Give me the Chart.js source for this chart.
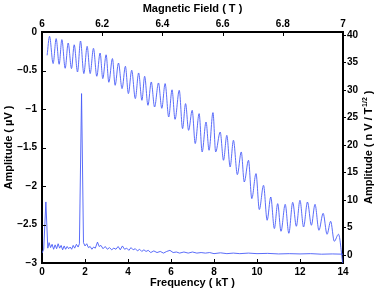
<!DOCTYPE html>
<html>
<head>
<meta charset="utf-8">
<script src="https://cdn.jsdelivr.net/npm/chart.js@4.4.1/dist/chart.umd.min.js"></script>
<style>
  html, body { margin: 0; padding: 0; background: #fff; }
  #chart { display: block; }
</style>
</head>
<body>
<canvas id="chart" width="382" height="291"></canvas>
<script>
// oscillation signal vs field (top / left axes)
var fieldT = [
  6.017, 6.025, 6.037, 6.047, 6.057, 6.066, 6.077, 6.087, 6.098, 6.107,
  6.118, 6.128, 6.139, 6.150, 6.160, 6.171, 6.182, 6.193, 6.202, 6.213,
  6.222, 6.234, 6.243, 6.254, 6.266, 6.277, 6.287, 6.298, 6.310, 6.321,
  6.332, 6.341, 6.352, 6.363, 6.374, 6.387, 6.398, 6.409, 6.421, 6.432,
  6.442, 6.456, 6.467, 6.477, 6.487, 6.499, 6.509, 6.522, 6.532, 6.545,
  6.555, 6.568, 6.577, 6.592, 6.603, 6.614, 6.625, 6.636, 6.649, 6.662,
  6.672, 6.686, 6.697, 6.711, 6.722, 6.736, 6.748, 6.760, 6.772, 6.783,
  6.794, 6.808, 6.820, 6.833, 6.845, 6.857, 6.869, 6.882, 6.895, 6.907,
  6.920, 6.934, 6.947, 6.959, 6.971, 6.985, 6.999
];
var signalUV = [
  -0.303, -0.056, -0.410, -0.086, -0.419, -0.099, -0.471, -0.143, -0.475, -0.166,
  -0.519, -0.117, -0.540, -0.186, -0.540, -0.212, -0.575, -0.273, -0.605, -0.296,
  -0.653, -0.345, -0.692, -0.403, -0.735, -0.445, -0.800, -0.497, -0.865, -0.532,
  -0.887, -0.575, -0.952, -0.649, -0.974, -0.662, -0.991, -0.670, -1.104, -0.751,
  -1.134, -0.757, -1.255, -0.930, -1.277, -1.017, -1.449, -1.060, -1.558, -1.169,
  -1.536, -1.047, -1.558, -1.299, -1.666, -1.342, -1.753, -1.406, -1.852, -1.558,
  -1.948, -1.666, -2.164, -1.839, -2.306, -1.991, -2.445, -2.143, -2.553, -2.229,
  -2.588, -2.238, -2.614, -2.212, -2.523, -2.186, -2.532, -2.208, -2.510, -2.238,
  -2.575, -2.355, -2.627, -2.458, -2.718, -2.627, -3.0
];

// FFT amplitude vs frequency (bottom / right axes)
var freqKT = [
  0.00, 0.08, 0.18, 0.27, 0.33, 0.40, 0.47, 0.54, 0.61, 0.68,
  0.75, 0.82, 0.89, 0.96, 1.03, 1.10, 1.17, 1.24, 1.31, 1.38,
  1.45, 1.52, 1.60, 1.68, 1.74, 1.84, 1.93, 2.00, 2.08, 2.16,
  2.24, 2.32, 2.40, 2.48, 2.58, 2.66, 2.74, 2.84, 2.94, 3.04,
  3.14, 3.24, 3.34, 3.44, 3.54, 3.64, 3.74, 3.84, 3.94, 4.04,
  4.14, 4.24, 4.34, 4.44, 4.54, 4.64, 4.74, 4.84, 4.94, 5.06,
  5.20, 5.35, 5.50, 5.65, 5.80, 5.95, 6.10, 6.25, 6.40, 6.60,
  6.80, 7.00, 7.20, 7.40, 7.60, 7.80, 8.00, 8.30, 8.60, 8.90,
  9.20, 9.60, 10.0, 10.5, 11.0, 11.5, 12.0, 12.5, 13.0, 13.5,
  14.0
];
var fftAmp = [
  0.3, 1.0, 9.6, 1.2, 2.2, 1.3, 1.9, 1.0, 1.8, 1.1,
  2.0, 1.2, 1.7, 0.9, 1.6, 1.0, 1.5, 1.1, 1.4, 1.0,
  1.7, 1.2, 1.9, 1.4, 2.0, 29.3, 2.2, 1.6, 2.0, 1.3,
  1.5, 1.0, 1.4, 1.2, 2.3, 1.5, 1.7, 1.1, 1.5, 1.0,
  1.3, 0.9, 1.2, 1.0, 1.5, 0.9, 1.6, 1.0, 1.2, 0.8,
  1.3, 0.9, 1.1, 0.7, 1.0, 0.6, 0.9, 0.6, 0.8, 0.4,
  0.7, 0.4, 0.6, 0.3, 0.6, 0.8, 0.4, 0.5, 0.3, 0.5,
  0.3, 0.5, 0.3, 0.4, 0.3, 0.4, 0.2, 0.35, 0.2, 0.3,
  0.2, 0.3, 0.2, 0.25, 0.15, 0.2, 0.15, 0.2, 0.1, 0.15,
  0.1
];

var fieldTicks = [6, 6.2, 6.4, 6.6, 6.8, 7];
var freqTicks = [0, 2, 4, 6, 8, 10, 12, 14];
var leftTicks = [0, -0.5, -1, -1.5, -2, -2.5, -3];
var rightTicks = [0, 5, 10, 15, 20, 25, 30, 35, 40];

var LINE = 'rgb(72, 92, 248)';
var FONT = '"Liberation Sans", Arial, Helvetica, sans-serif';
var tickFont = { family: FONT, size: 10, weight: 'bold' };
var titleFont = { family: FONT, size: 11, weight: 'bold' };

function pairs(xs, ys) {
  return xs.map(function (x, i) { return { x: x, y: ys[i] }; });
}
function fixTicks(list) {
  return function (scale) {
    scale.ticks = list.map(function (v) { return { value: v }; });
  };
}
function plain(v) {
  return String(v).replace('-', '\u2212');
}

// MATLAB style: small tick marks pointing into the box
var inwardTicks = {
  id: 'inwardTicks',
  afterDatasetsDraw: function (chart) {
    var ctx = chart.ctx, a = chart.chartArea, len = 4;
    ctx.save();
    ctx.strokeStyle = '#000';
    ctx.lineWidth = 1;
    ['xBot', 'xTop', 'yLeft', 'yRight'].forEach(function (id) {
      var s = chart.scales[id];
      s.ticks.forEach(function (t) {
        var p = Math.round(s.getPixelForValue(t.value)) + 0.5;
        ctx.beginPath();
        if (id === 'xBot') { ctx.moveTo(p, a.bottom); ctx.lineTo(p, a.bottom - len); }
        if (id === 'xTop') { ctx.moveTo(p, a.top); ctx.lineTo(p, a.top + len); }
        if (id === 'yLeft') { ctx.moveTo(a.left, p); ctx.lineTo(a.left + len, p); }
        if (id === 'yRight') { ctx.moveTo(a.right, p); ctx.lineTo(a.right + 3, p); }
        ctx.stroke();
      });
    });
    ctx.restore();
  }
};

// right title needs a superscript, so draw it by hand
var rightTitle = {
  id: 'rightTitle',
  afterDraw: function (chart) {
    var ctx = chart.ctx, a = chart.chartArea;
    var main = 'Amplitude ( n V / T', sup = '1/2', tail = ' )';
    ctx.save();
    ctx.fillStyle = '#000';
    ctx.textBaseline = 'middle';
    ctx.textAlign = 'left';
    ctx.font = 'bold 11px ' + FONT;
    var w1 = ctx.measureText(main).width, w3 = ctx.measureText(tail).width;
    ctx.font = 'bold 7px ' + FONT;
    var w2 = ctx.measureText(sup).width;
    var x0 = -(w1 + w2 + w3) / 2;
    ctx.translate(369, (a.top + a.bottom) / 2);
    ctx.rotate(-Math.PI / 2);
    ctx.font = 'bold 11px ' + FONT;
    ctx.fillText(main, x0, 0);
    ctx.font = 'bold 7px ' + FONT;
    ctx.fillText(sup, x0 + w1 + 0.5, -4);
    ctx.font = 'bold 11px ' + FONT;
    ctx.fillText(tail, x0 + w1 + w2 + 0.5, 0);
    ctx.restore();
  }
};

var axisBorder = { display: true, color: '#000', width: 2 };
var noGrid = { display: false, drawTicks: false, tickLength: 0 };

new Chart(document.getElementById('chart'), {
  type: 'line',
  data: {
    datasets: [
      {
        data: pairs(fieldT, signalUV),
        xAxisID: 'xTop',
        yAxisID: 'yLeft',
        borderColor: LINE,
        borderWidth: 0.9,
        pointRadius: 0,
        cubicInterpolationMode: 'monotone'
      },
      {
        data: pairs(freqKT, fftAmp),
        xAxisID: 'xBot',
        yAxisID: 'yRight',
        borderColor: LINE,
        borderWidth: 0.9,
        pointRadius: 0,
        tension: 0
      }
    ]
  },
  options: {
    responsive: false,
    animation: false,
    devicePixelRatio: 1,
    layout: { padding: 0 },
    plugins: { legend: { display: false }, tooltip: { enabled: false } },
    scales: {
      xBot: {
        type: 'linear',
        position: 'bottom',
        min: 0,
        max: 14,
        afterBuildTicks: fixTicks(freqTicks),
        afterFit: function (s) { s.height = 28; },
        grid: noGrid,
        border: axisBorder,
        ticks: { font: tickFont, color: '#000', padding: 3, maxRotation: 0, callback: plain },
        title: { display: true, text: 'Frequency ( kT )', font: titleFont, color: '#000', padding: { top: 0, bottom: 1 } }
      },
      xTop: {
        type: 'linear',
        position: 'top',
        min: 6,
        max: 7,
        afterBuildTicks: fixTicks(fieldTicks),
        afterFit: function (s) { s.height = 32; },
        grid: noGrid,
        border: axisBorder,
        ticks: { font: tickFont, color: '#000', padding: 2, maxRotation: 0, callback: plain },
        title: { display: true, text: 'Magnetic Field ( T )', font: titleFont, color: '#000', padding: { top: 2, bottom: 0 } }
      },
      yLeft: {
        type: 'linear',
        position: 'left',
        min: -3,
        max: 0,
        afterBuildTicks: fixTicks(leftTicks),
        afterFit: function (s) { s.width = 42; },
        grid: noGrid,
        border: axisBorder,
        ticks: { font: tickFont, color: '#000', padding: 5, callback: plain },
        title: { display: true, text: 'Amplitude ( \u00b5V )', font: titleFont, color: '#000', padding: { top: 2, bottom: 0 } }
      },
      yRight: {
        type: 'linear',
        position: 'right',
        min: -1.5,
        max: 40.5,
        afterBuildTicks: fixTicks(rightTicks),
        afterFit: function (s) { s.width = 39; },
        grid: noGrid,
        border: axisBorder,
        ticks: { font: tickFont, color: '#000', padding: 4, callback: plain }
      }
    }
  },
  plugins: [inwardTicks, rightTitle]
});
</script>
</body>
</html>
